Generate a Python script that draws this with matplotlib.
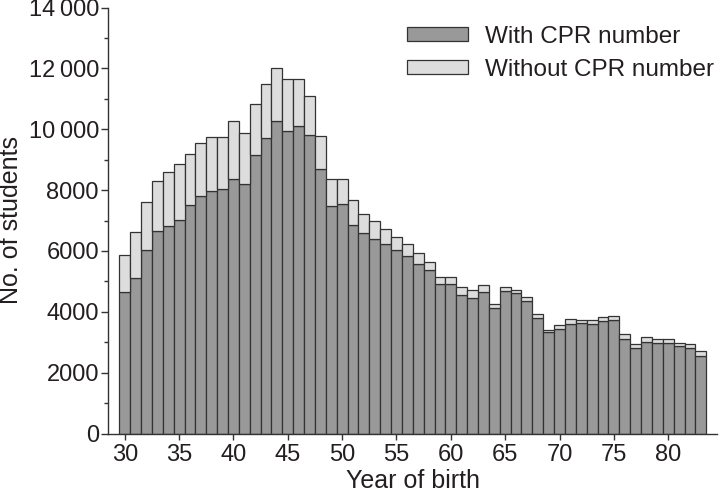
import matplotlib
matplotlib.use('Agg')
import matplotlib.pyplot as plt
import numpy as np

plt.rcParams['font.family'] = ['Liberation Sans', 'DejaVu Sans']

years = np.arange(1930, 1984) - 1900
# students with CPR number (per year of birth)
with_cpr = [4650, 5120, 6030, 6670, 6830, 7010, 7520, 7800, 7960, 8040,
            8360, 8200, 9140, 9720, 10270, 9950, 10090, 9820, 8700, 7470,
            7550, 6850, 6580, 6390, 6220, 6040, 5820, 5570, 5380, 4910,
            4910, 4540, 4450, 4650, 4120, 4690, 4610, 4340, 3790, 3320,
            3440, 3590, 3620, 3600, 3710, 3730, 3100, 2800, 3000, 2970,
            2990, 2890, 2820, 2560]
# total students (with + without CPR number)
total = [5850, 6620, 7600, 8310, 8590, 8850, 9200, 9560, 9750, 9750,
         10270, 9880, 10840, 11480, 12000, 11640, 11640, 11100, 9770, 8350,
         8350, 7690, 7230, 6990, 6730, 6450, 6220, 5940, 5630, 5130,
         5130, 4800, 4710, 4870, 4260, 4810, 4720, 4470, 3920, 3400,
         3570, 3760, 3730, 3730, 3820, 3870, 3260, 2940, 3160, 3110,
         3100, 2990, 2930, 2710]
without_cpr = np.array(total) - np.array(with_cpr)

ytick_vals = [0, 2000, 4000, 6000, 8000, 10000, 12000, 14000]
ytick_labels = ['0', '2000', '4000', '6000', '8000', '10\u2009000', '12\u2009000', '14\u2009000']

txt = '#231f20'
fig = plt.figure(figsize=(7.2, 5), dpi=100)
ax = fig.add_axes([0.15, 0.133, 0.846, 0.852])

ax.bar(years, with_cpr, width=1.0, color='#999999', edgecolor='#333333',
       linewidth=0.9, label='With CPR number')
ax.bar(years, without_cpr, bottom=with_cpr, width=1.0, color='#dddddd',
       edgecolor='#333333', linewidth=0.9, label='Without CPR number')

ax.set_xlim(28.46, 84.5)
ax.set_ylim(0, 14000)
ax.set_xticks(np.arange(30, 81, 5))
ax.set_yticks(ytick_vals)
ax.set_yticklabels(ytick_labels)
ax.set_yticks(np.arange(1000, 14000, 2000), minor=True)

for s in ['top', 'right']:
    ax.spines[s].set_visible(False)
for s in ['left', 'bottom']:
    ax.spines[s].set_color('#333333')
    ax.spines[s].set_linewidth(1.0)

ax.tick_params(axis='both', which='major', labelsize=17, width=1.0,
               color='#333333', labelcolor=txt)
ax.tick_params(axis='x', which='major', length=4, pad=3.5)
ax.tick_params(axis='y', which='major', length=5, pad=1.5)
ax.tick_params(axis='y', which='minor', length=3, width=1.0, color='#333333')

ax.set_xlabel('Year of birth', fontsize=18, color=txt, labelpad=2)
ax.set_ylabel('No. of students', fontsize=18, color=txt, labelpad=4)

leg = ax.legend(loc='upper left', bbox_to_anchor=(407 / 720, 1 - 26 / 500),
                bbox_transform=fig.transFigure, frameon=False,
                fontsize=17.5, handlelength=2.5, handleheight=0.5,
                labelspacing=0.45, handletextpad=0.7, borderaxespad=0,
                borderpad=0)
for t in leg.get_texts():
    t.set_color(txt)

fig.savefig('out.png', dpi=100)
